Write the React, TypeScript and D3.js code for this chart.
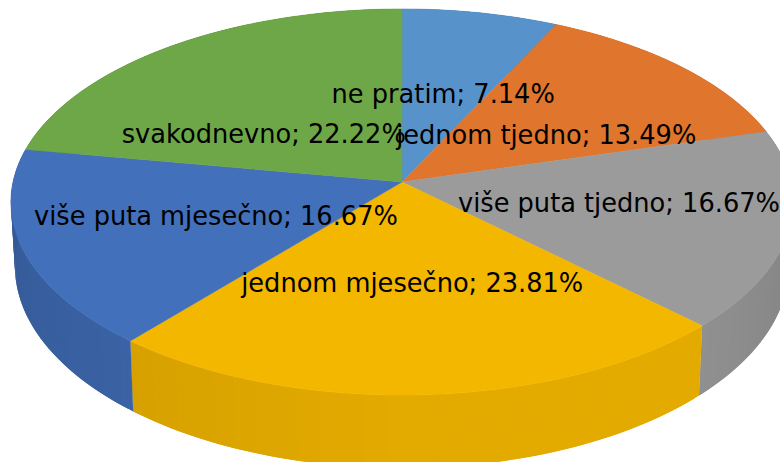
import React from "react";
import * as d3 from "d3";

const categories = ["ne pratim", "jednom tjedno", "više puta tjedno", "jednom mjesečno", "više puta mjesečno", "svakodnevno"];
const counts = [9, 17, 21, 30, 21, 28];
const topColors = ["#5793ca", "#e0752d", "#9b9b9b", "#f4b700", "#4270bb", "#6ea747"];
const labelNudgeX = [0, 0, 26, 0, 0, -18];
const labelNudgeY = [0, 12, -3, 0, 0, 22];

const W = 780, H = 462;
const cx = 402;
const top = { cy: 182, R: 389, Rk: 191 };
const bottom = { cy: 245, R: 385, Rk: 200 };
const persp = 0.1036;

function project(f: { cy: number; R: number; Rk: number }, a: number, r = 1): [number, number] {
  const s = 1 / (1 + persp * r * Math.cos(a));
  return [cx + f.R * r * Math.sin(a) * s, f.cy - f.Rk * r * Math.cos(a) * s];
}

// side brightness: lightest near the front, darker toward the silhouette
const shade = d3.scaleLinear().domain([90, 135, 180, 225, 270].map((d) => (d * Math.PI) / 180)).range([0.83, 0.93, 0.93, 0.87, 0.8]).clamp(true);

const slices = d3.pie<number>().sort(null).value((d) => d)(counts);
const total = d3.sum(counts);
const fmt = d3.format(".2f");

function arcSteps(a0: number, a1: number, step: number) {
  const n = Math.max(1, Math.ceil((a1 - a0) / step));
  return d3.range(n + 1).map((i) => a0 + ((a1 - a0) * i) / n);
}

const line = d3.line();

export default function App() {
  const step = Math.PI / 180;
  return (
    <svg width={W} height={H} style={{ position: "absolute", left: 0, top: 0, background: "#fff" }}>
      <g>
        {slices.map((s, i) => {
          const as = arcSteps(s.startAngle, s.endAngle, step);
          const c = d3.rgb(topColors[i]);
          return as.slice(0, -1).map((a0, j) => {
            // each strip reaches past the next one, which is painted over it, so no seams show
            const a1 = as[Math.min(j + 2, as.length - 1)];
            const k = shade(a0);
            const col = d3.rgb(c.r * k, c.g * k, c.b * k).formatHex();
            const d = line([project(top, a0), project(top, a1), project(bottom, a1), project(bottom, a0)]) + "Z";
            return <path key={`${i}-${j}`} d={d} fill={col} />;
          });
        })}
      </g>
      <g>
        {slices.map((s, i) => {
          const pts = arcSteps(s.startAngle, s.endAngle, step).map((a) => project(top, a));
          const d = line([[cx, top.cy], ...pts]) + "Z";
          return <path key={i} d={d} fill={topColors[i]} stroke={topColors[i]} strokeWidth={0.5} />;
        })}
      </g>
      <g fontFamily="'DejaVu Sans'" fontSize={26.6} fill="#000" textAnchor="middle">
        {slices.map((s, i) => {
          const [x, y] = project(top, (s.startAngle + s.endAngle) / 2, 0.5);
          return (
            <text key={i} transform={`translate(${x + labelNudgeX[i]},${y + labelNudgeY[i] + 9.5}) scale(0.965,1)`}>
              {`${categories[i]}; ${fmt((counts[i] / total) * 100)}%`}
            </text>
          );
        })}
      </g>
    </svg>
  );
}
